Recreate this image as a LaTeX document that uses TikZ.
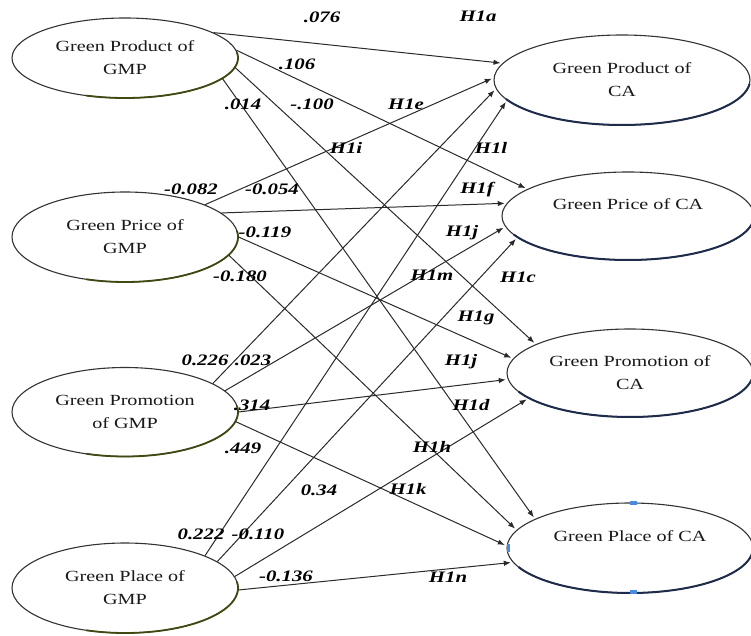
\documentclass[tikz,border=0pt]{standalone}
\usepackage{fontspec}
\setmainfont{Liberation Serif}[FakeStretch=1.3]
\usetikzlibrary{arrows.meta,shapes.geometric}
\definecolor{lineclr}{HTML}{2A2A2A}
\definecolor{olivedark}{HTML}{3F4A12}
\definecolor{navydark}{HTML}{1E2B4A}
\definecolor{handleblue}{HTML}{4A8BE0}
\begin{document}
\begin{tikzpicture}[x=1pt,y=-1pt,
  ell/.style={ellipse, draw=black!80, line width=1.1pt, inner sep=0pt, align=center,
    font=\fontsize{15.5}{23}\selectfont, text=black!90},
  conn/.style={draw=lineclr, line width=1pt, -{Latex[length=7pt,width=5.5pt]}, shorten >=2pt},
  coef/.style={font=\fontsize{16}{18}\selectfont\bfseries\itshape, text=black, inner sep=0pt},
  hyp/.style={coef},
  leftshade/.style={draw=olivedark, line width=1.8pt},
  rightshade/.style={draw=navydark, line width=2pt},
  handlebox/.style={fill=handleblue, inner sep=0pt}
]
\useasboundingbox (0,0) rectangle (751,636);

% left ellipses
\node[ell, minimum width=226pt, minimum height=80pt] (L1) at (125,58) {Green Product of\\GMP};
\node[ell, minimum width=226pt, minimum height=90pt] (L2) at (125,237) {Green Price of\\GMP};
\node[ell, minimum width=226pt, minimum height=89pt] (L3) at (125,412) {Green Promotion\\of GMP};
\node[ell, minimum width=226pt, minimum height=90pt] (L4) at (125,588) {Green Place of\\GMP};

% right ellipses
\node[ell, minimum width=256pt, minimum height=90pt] (R1) at (622,80) {Green Product of\\CA};
\node[ell, minimum width=252pt, minimum height=88pt] (R2) at (628,216) {Green Price of CA\\\mbox{}};
\node[ell, minimum width=246pt, minimum height=88pt] (R3) at (630,373) {Green Promotion of\\CA};
\node[ell, minimum width=246pt, minimum height=90pt] (R4) at (630,548) {Green Place of CA\\\mbox{}};

% shaded rims
\draw[leftshade] plot[smooth, domain=-8:110, samples=40] ({125+113*cos(\x)}, {58+40*sin(\x)});
\draw[leftshade] plot[smooth, domain=-8:110, samples=40] ({125+113*cos(\x)}, {237+45*sin(\x)});
\draw[leftshade] plot[smooth, domain=-8:110, samples=40] ({125+113*cos(\x)}, {412+44.5*sin(\x)});
\draw[leftshade] plot[smooth, domain=-8:110, samples=40] ({125+113*cos(\x)}, {588+45*sin(\x)});
\draw[rightshade] plot[smooth, domain=5:155, samples=40] ({622+128*cos(\x)}, {80+45*sin(\x)});
\draw[rightshade] plot[smooth, domain=5:155, samples=40] ({628+126*cos(\x)}, {216+44*sin(\x)});
\draw[rightshade] plot[smooth, domain=5:155, samples=40] ({630+123*cos(\x)}, {373+44*sin(\x)});
\draw[rightshade] plot[smooth, domain=5:155, samples=40] ({630+123*cos(\x)}, {548+45*sin(\x)});

% connectors
\draw[conn] (L1.16) -- (R1.172);
\draw[conn] (L1.4) -- (R2.165);
\draw[conn] (L1.-5) -- (R3.163);
\draw[conn] (L1.-12) -- (R4.163);
\draw[conn] (L2.22) -- (R1.179);
\draw[conn] (L2.14) -- (R2.174);
\draw[conn] (L2.0) -- (R3.173);
\draw[conn] (L2.-10) -- (R4.171);
\draw[conn] (L3.18) -- (R1.184);
\draw[conn] (L3.12) -- (R2.185);
\draw[conn] (L3.0) -- (R3.183);
\draw[conn] (L3.-5) -- (R4.179);
\draw[conn] (L4.22) -- (R1.190);
\draw[conn] (L4.16) -- (R2.191);
\draw[conn] (L4.6) -- (R3.194);
\draw[conn] (L4.-1) -- (R4.187);

% coefficients
\node[coef] (c1) at (322,17) {.076};
\node[coef] (c2) at (297,64) {.106};
\node[coef] (c3) at (243,104) {.014};
\node[coef] (c4) at (312,104) {-.100};
\node[coef] (c5) at (191,189) {-0.082};
\node[coef] (c6) at (272,189) {-0.054};
\node[coef] (c7) at (265,232) {-0.119};
\node[coef] (c8) at (240,276) {-0.180};
\node[coef] (c9) at (205,360) {0.226};
\node[coef] (c10) at (253,360) {.023};
\node[coef] (c11) at (252,405) {.314};
\node[coef] (c12) at (243,448) {.449};
\node[coef] (c13) at (319,490) {0.34};
\node[coef] (c14) at (201,534) {0.222};
\node[coef] (c15) at (258,534) {-0.110};
\node[coef] (c16) at (286,576) {-0.136};

% hypotheses
\node[hyp] (h1) at (478,16) {H1a};
\node[hyp] (h2) at (406,104) {H1e};
\node[hyp] (h3) at (346,148) {H1i};
\node[hyp] (h4) at (491,148) {H1l};
\node[hyp] (h5) at (477,190) {H1f};
\node[hyp] (h6) at (462,233) {H1j};
\node[hyp] (h7) at (432,275) {H1m};
\node[hyp] (h8) at (518,277) {H1c};
\node[hyp] (h9) at (476,318) {H1g};
\node[hyp] (h10) at (461,362) {H1j};
\node[hyp] (h11) at (471,405) {H1d};
\node[hyp] (h12) at (432,447) {H1h};
\node[hyp] (h13) at (408,489) {H1k};
\node[hyp] (h14) at (448,577) {H1n};

% selection handles
\node[handlebox, minimum width=7pt, minimum height=4pt] (hd1) at (633,503) {};
\node[handlebox, minimum width=7pt, minimum height=4pt] (hd2) at (633,592) {};
\node[handlebox, minimum width=3pt, minimum height=8pt] (hd3) at (508,548) {};
\end{tikzpicture}
\end{document}
